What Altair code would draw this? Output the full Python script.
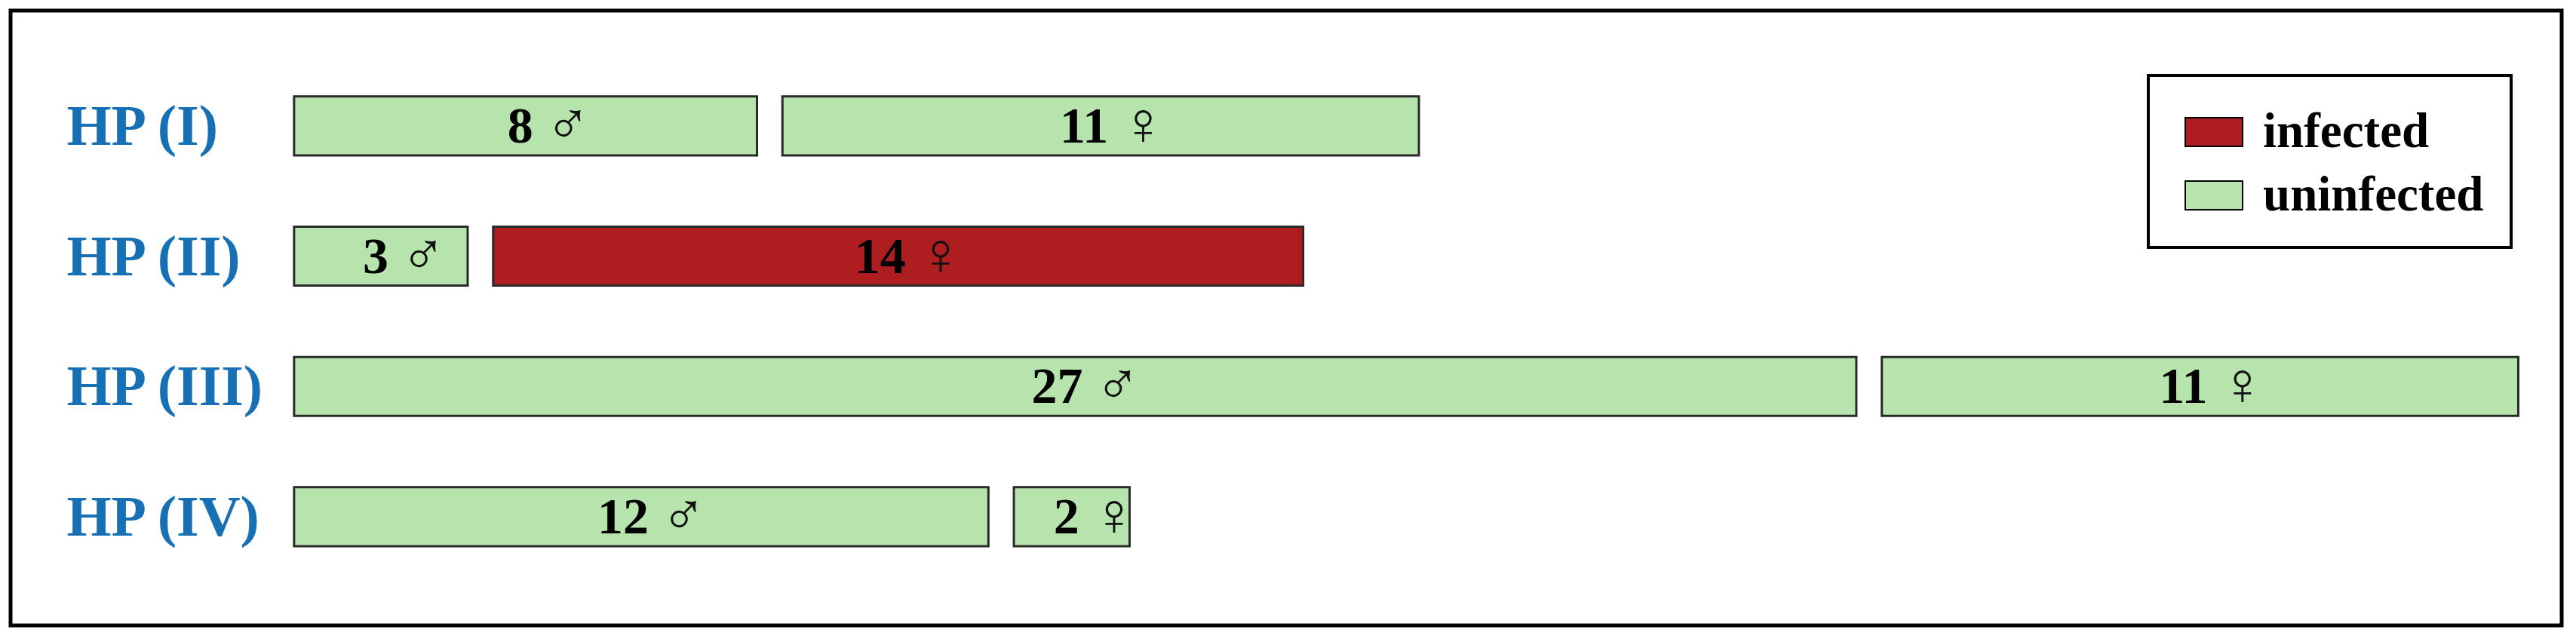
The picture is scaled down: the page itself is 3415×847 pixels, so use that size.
import altair as alt
import pandas as pd

groups = ["HP (I)", "HP (II)", "HP (III)", "HP (IV)"]
males = [8, 3, 27, 12]
females = [11, 14, 11, 2]
male_status = ["uninfected", "uninfected", "uninfected", "uninfected"]
female_status = ["uninfected", "infected", "uninfected", "uninfected"]

GAP = 0.44  # gap between the two bars, in count units

rows = []
for g, m, f, ms, fs in zip(groups, males, females, male_status, female_status):
    rows.append({"group": g, "start": 0, "end": m, "mid": m / 2,
                 "num": str(m), "sym": "\u2642", "status": ms})
    s = m + GAP
    rows.append({"group": g, "start": s, "end": s + f, "mid": s + f / 2,
                 "num": str(f), "sym": "\u2640", "status": fs})
df = pd.DataFrame(rows)
lab = pd.DataFrame({"group": groups})

xscale = alt.Scale(domain=[-4.90, 39.19], nice=False, zero=False)
yscale = alt.Scale(domain=groups, paddingInner=0.548, paddingOuter=0.634, align=0.52)
Y = alt.Y("group:N", sort=groups, scale=yscale, axis=None)

color = alt.Color(
    "status:N",
    scale=alt.Scale(domain=["infected", "uninfected"], range=["#AE1D1F", "#B7E3AD"]),
    legend=alt.Legend(
        title=None, orient="none", legendX=2834, legendY=86,
        symbolType="M-1,-0.5H1V0.5H-1Z", symbolSize=5776,
        symbolStrokeColor="black", symbolStrokeWidth=2, symbolOpacity=1,
        symbolOffset=12,
        labelFont="Liberation Serif", labelFontSize=65, labelFontWeight="bold",
        labelColor="black", labelOffset=26, labelLimit=600,
        padding=36, rowPadding=12,
        strokeColor="black", fillColor="white",
    ),
)

bars = alt.Chart(df).mark_bar(stroke="#2a2a2a", strokeWidth=3, opacity=1).encode(
    x=alt.X("start:Q", scale=xscale, axis=None),
    x2="end:Q",
    y=Y,
    color=color,
)

nums = alt.Chart(df).mark_text(
    font="Liberation Serif", fontSize=68, fontWeight="bold", color="black",
    align="right", baseline="middle", dx=10, dy=2,
).encode(x=alt.X("mid:Q", scale=xscale, axis=None), y=Y, text="num:N")

syms = alt.Chart(df).mark_text(
    font="DejaVu Sans", fontSize=80, fontWeight=200, color="#111111",
    align="left", baseline="middle", dx=26, dy=0,
).encode(x=alt.X("mid:Q", scale=xscale, axis=None), y=Y, text="sym:N")

labels = alt.Chart(lab).mark_text(
    font="Liberation Serif", fontSize=76, fontWeight="bold", color="#1770B4",
    align="left", baseline="middle", dy=2,
).encode(x=alt.X(datum=-3.93, scale=xscale, axis=None), y=Y, text="group:N")

chart = (
    alt.layer(bars, nums, syms, labels)
    .properties(width=3382, height=815,
                padding={"left": 6, "top": 6, "right": 11, "bottom": 7})
    .configure_view(stroke="black", strokeWidth=5)
    .configure_legend(strokeWidth=4)
)

chart.save("out.html", embed_options={"renderer": "svg", "actions": False})
